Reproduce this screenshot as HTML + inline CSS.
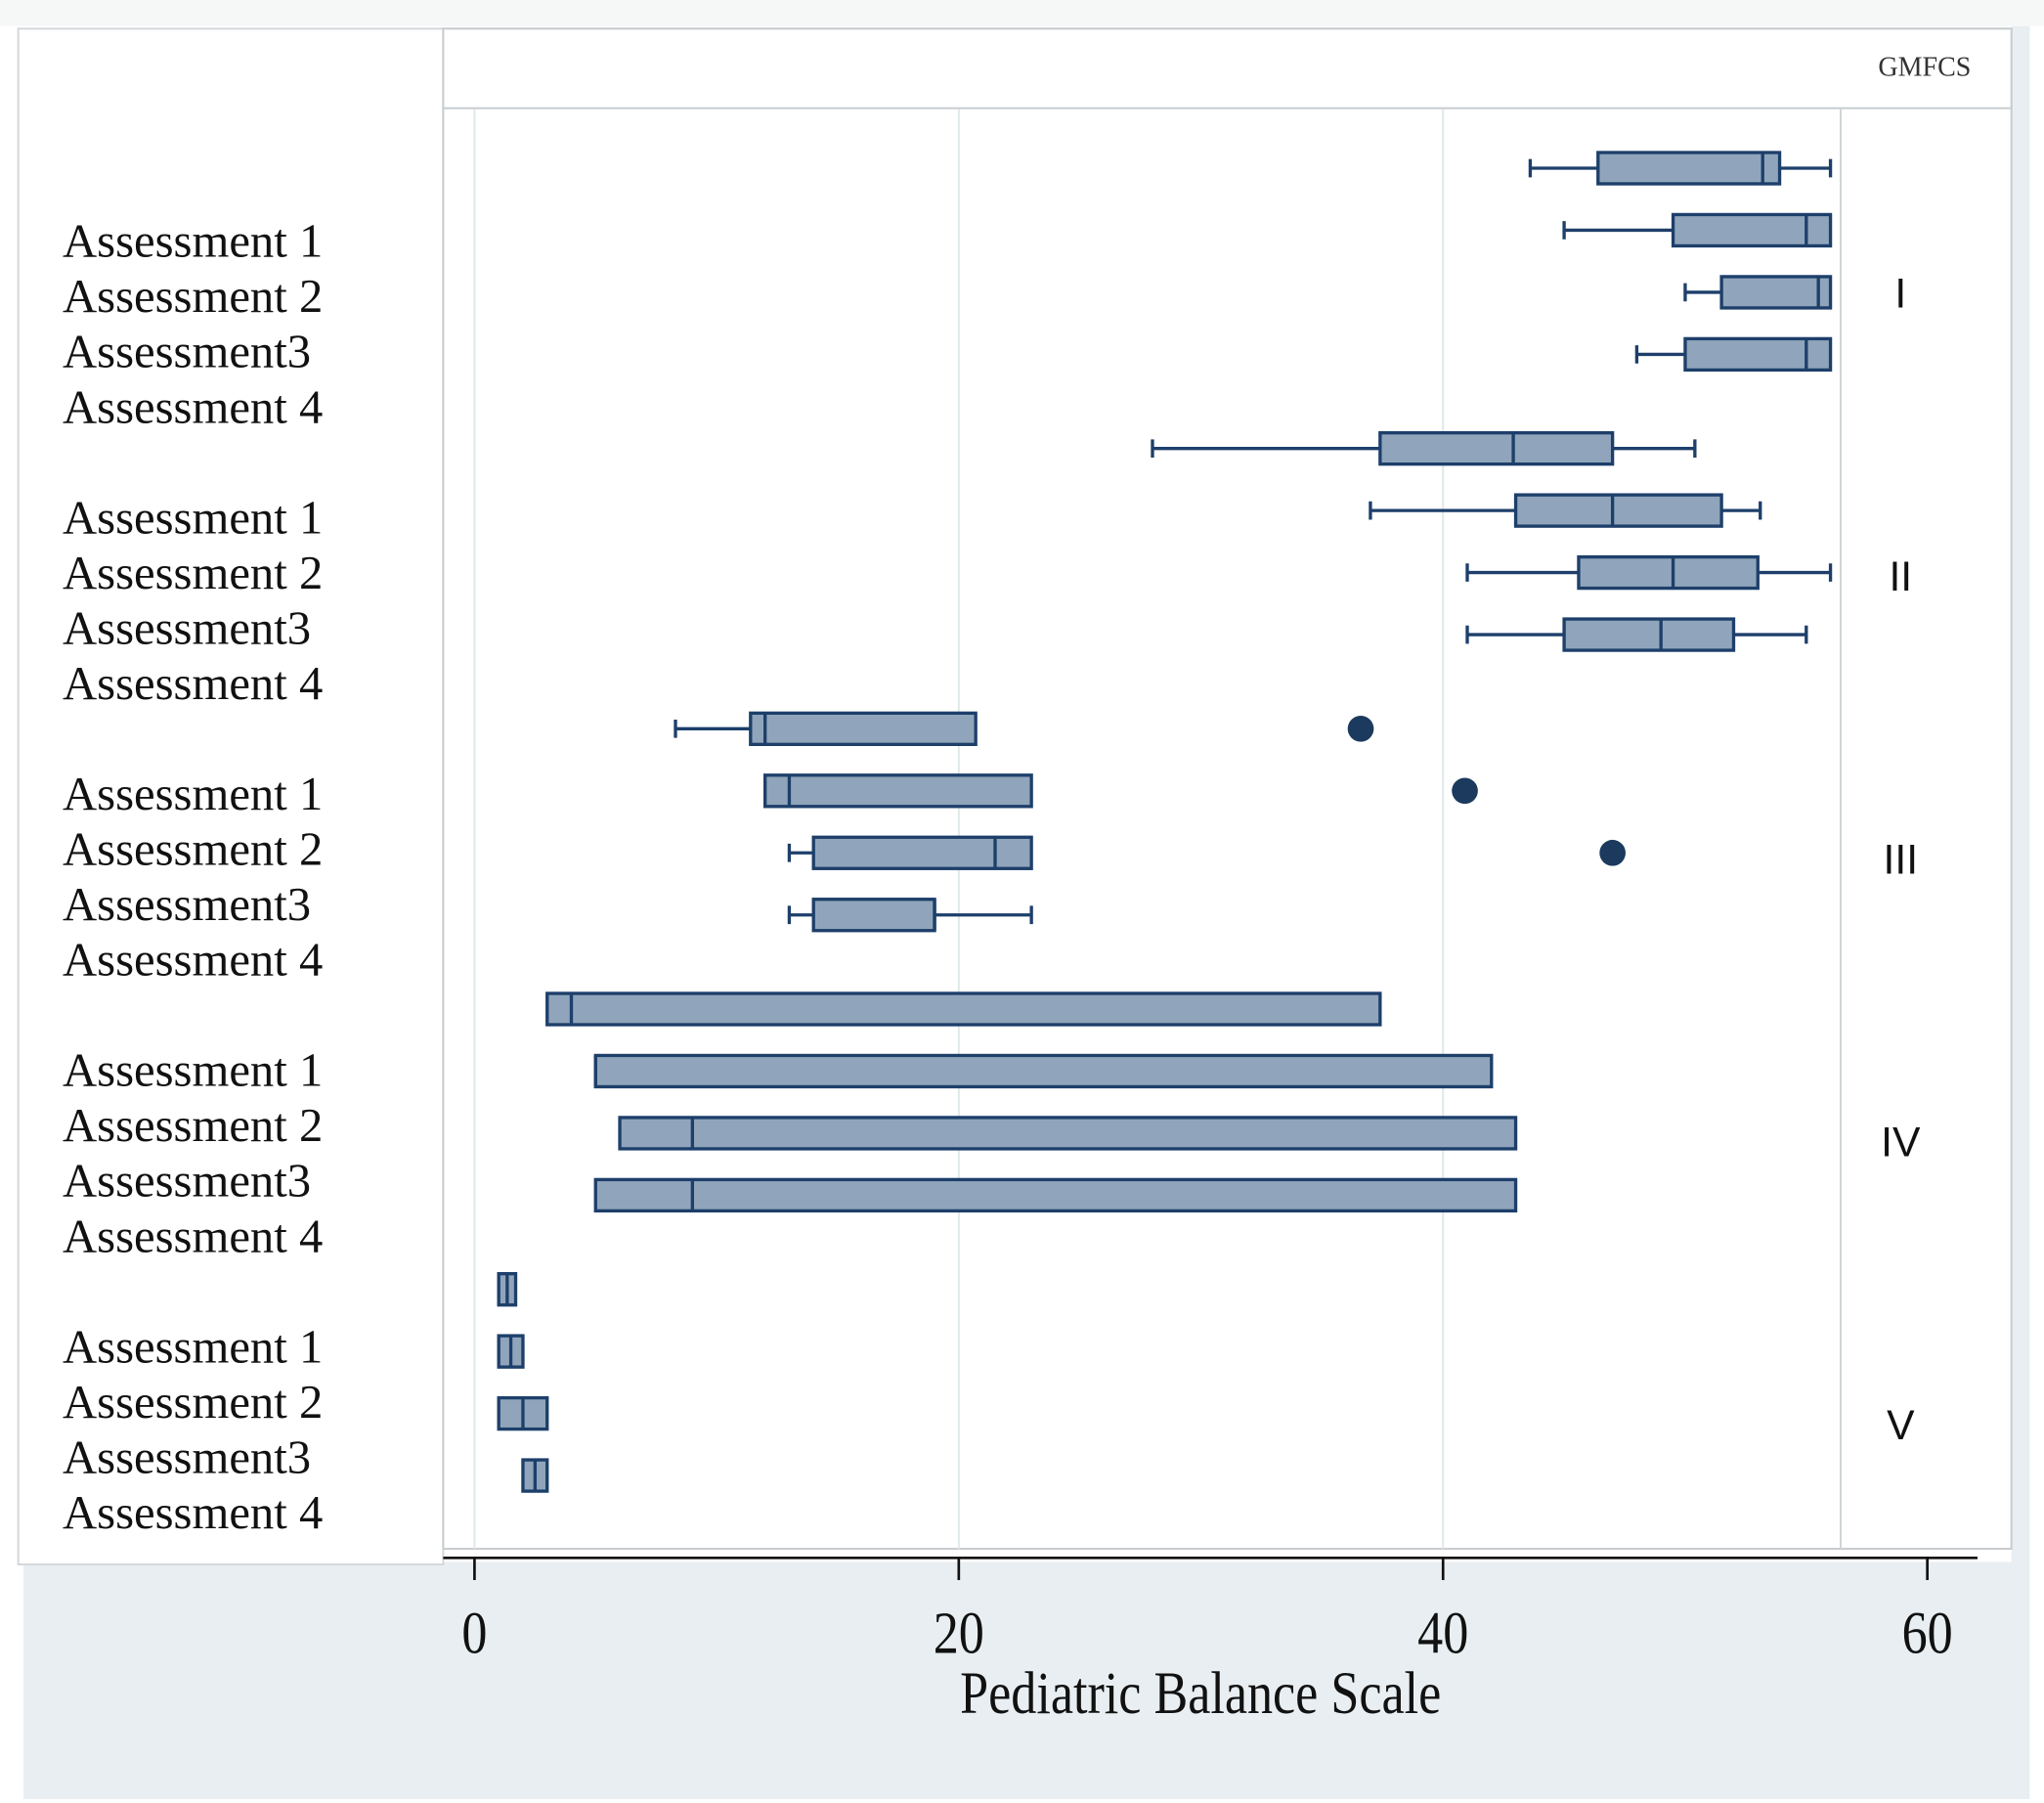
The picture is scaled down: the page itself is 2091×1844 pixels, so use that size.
<!DOCTYPE html>
<html><head><meta charset="utf-8"><style>
html,body{margin:0;padding:0;background:#fff;}
svg{display:block;}
</style></head><body>
<svg id="chart" width="2091" height="1844" viewBox="0 0 1568 1383" preserveAspectRatio="none" xmlns="http://www.w3.org/2000/svg">
<rect x="18" y="1198" width="1539" height="182" fill="#e8eef1"/>
<rect x="1543" y="20" width="14" height="1180" fill="#e8eef1"/>
<rect x="0" y="0" width="1568" height="20" fill="#f6f8f8"/>
<rect x="14" y="22" width="326" height="1178" fill="#fff" stroke="#d4d8da" stroke-width="1.5"/>
<rect x="340" y="22" width="1203" height="1166" fill="#fff" stroke="#c8cccf" stroke-width="1.5"/>
<rect x="340" y="22" width="1203" height="61" fill="#fff" stroke="#c8cccf" stroke-width="1.5"/>
<text x="1512" y="58" text-anchor="end" font-family="Liberation Serif, serif" font-size="21" fill="#333">GMFCS</text>
<line x1="1412" y1="83" x2="1412" y2="1188" stroke="#d0d4d6" stroke-width="1.5"/>
<g id="grid"></g><g id="marks"></g><g id="labels"></g><g id="axis"></g>
</svg>
<script>
const ticks=[0,20,40,60];
const groups=["I","II","III","IV","V"];
const assessments=["Assessment 1","Assessment 2","Assessment3","Assessment 4"];
const lowWhisker=[43.6,45,50,48, 28,37,41,41, 8.3,null,13,13, null,null,null,null, null,null,null,null];
const q1=[46.4,49.5,51.5,50, 37.4,43,45.6,45, 11.4,12,14,14, 3,5,6,5, 1,1,1,2];
const median=[53.2,55,55.5,55, 42.9,47,49.5,49, 12,13,21.5,19, 4,5,9,9, 1.35,1.5,2,2.5];
const q3=[53.9,56,56,56, 47,51.5,53,52, 20.7,23,23,19, 37.4,42,43,43, 1.7,2,3,3];
const highWhisker=[56,null,null,null, 50.4,53.1,56,55, null,null,null,23, null,null,null,null, null,null,null,null];
const outliers=[null,null,null,null, null,null,null,null, 36.6,40.9,47,null, null,null,null,null, null,null,null,null];
const NS="http://www.w3.org/2000/svg";
const xS=v=>364+v*18.575;
const rowY=i=>129+Math.floor(i/4)*215+(i%4)*47.6;
function mk(tag,attrs,parent,txt){const e=document.createElementNS(NS,tag);for(const k in attrs)e.setAttribute(k,attrs[k]);if(txt!==undefined)e.textContent=txt;document.getElementById(parent).appendChild(e);return e;}
const stroke="#1d3f6a";
ticks.forEach(t=>{
  if(t<60){const g=mk('line',{x1:xS(t),x2:xS(t),y1:84,y2:1188,stroke:'#dfe8ea','stroke-width':1.5},'grid');
  
  }
  const tk=mk('line',{x1:xS(t),x2:xS(t),y1:1195,y2:1212,stroke:'#111','stroke-width':2},'axis');
  
  
  const tl=mk('text',{x:xS(t),y:1268,'text-anchor':'middle','font-family':'Liberation Serif, serif','font-size':46,fill:'#111',transform:`translate(${xS(t)},0) scale(0.85,1) translate(${-xS(t)},0)`},'axis',String(t));
  
  
});
const ax=mk('line',{x1:340,x2:1517,y1:1195,y2:1195,stroke:'#111','stroke-width':2},'axis');


const at=mk('text',{x:921,y:1314,'text-anchor':'middle','font-family':'Liberation Serif, serif','font-size':46,fill:'#111',transform:'translate(921,0) scale(0.85,1) translate(-921,0)'},'axis','Pediatric Balance Scale');


groups.forEach((g,gi)=>{
  const t=mk('text',{x:1458,y:236+gi*217,'text-anchor':'middle','font-family':'Liberation Sans, sans-serif','font-size':32,fill:'#111'},'labels',g);
  
  
  assessments.forEach((a,ai)=>{
    const l=mk('text',{x:48,y:197+gi*212+ai*42.4,'font-family':'Liberation Serif, serif','font-size':36.5,fill:'#111'},'labels',a);
    
    
  });
});
q1.forEach((v,i)=>{
  const y=rowY(i),h=24;
  if(lowWhisker[i]!=null){
    const w=mk('path',{d:`M${xS(lowWhisker[i])},${y}H${xS(v)}M${xS(lowWhisker[i])},${y-7}V${y+7}`,stroke:stroke,'stroke-width':2.5,fill:'none'},'marks');
    
    
  }
  if(highWhisker[i]!=null){
    const w=mk('path',{d:`M${xS(q3[i])},${y}H${xS(highWhisker[i])}M${xS(highWhisker[i])},${y-7}V${y+7}`,stroke:stroke,'stroke-width':2.5,fill:'none'},'marks');
    
    
  }
  const b=mk('rect',{x:xS(v),y:y-h/2,width:xS(q3[i])-xS(v),height:h,fill:'#90a5bb',stroke:stroke,'stroke-width':2.5},'marks');
  
  
  const m=mk('line',{x1:xS(median[i]),x2:xS(median[i]),y1:y-h/2,y2:y+h/2,stroke:stroke,'stroke-width':2.5},'marks');
  
  
  if(outliers[i]!=null){
    const o=mk('circle',{cx:xS(outliers[i]),cy:y,r:10,fill:'#1b3a5e'},'marks');
    
    
  }
});
</script>
</body></html>
